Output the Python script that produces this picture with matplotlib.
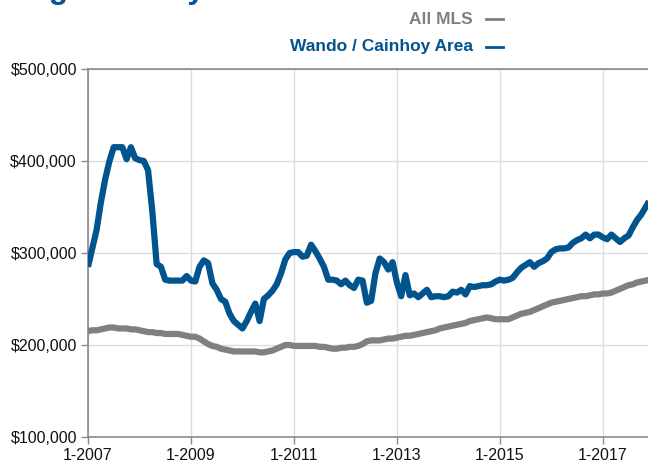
"""
Median sales price chart - All MLS vs Wando / Cainhoy Area.
Monthly values (in $ thousands) read off the reference, Jan 2007 - Dec 2017.
"""

import matplotlib
matplotlib.use("Agg")  # headless backend
import matplotlib.pyplot as plt
from matplotlib.lines import Line2D
import numpy as np

# ---------------------------------------------------------------------------
# Data (thousands of dollars, one value per month starting 1-2007)
# ---------------------------------------------------------------------------

wando_k = [
    285, 305, 325, 355, 380, 400, 415, 415, 415, 402, 415, 403,   # 2007
    401, 400, 390, 345, 288, 285, 271, 270, 270, 270, 270, 275,   # 2008
    270, 269, 285, 292, 289, 267, 260, 250, 247, 234, 226, 222,   # 2009
    218, 226, 236, 245, 226, 250, 254, 259, 266, 278, 293, 300,   # 2010
    301, 301, 296, 297, 309, 302, 294, 285, 271, 271, 270, 266,   # 2011
    270, 265, 262, 271, 270, 246, 248, 278, 294, 290, 282, 290,   # 2012
    268, 253, 276, 254, 256, 252, 256, 260, 252, 253, 253, 252,   # 2013
    253, 258, 257, 260, 255, 264, 263, 264, 265, 265, 266, 269,   # 2014
    271, 270, 271, 273, 279, 284, 287, 290, 285, 289, 291, 294,   # 2015
    301, 304, 305, 305, 306, 311, 314, 316, 320, 316, 320, 320,   # 2016
    317, 315, 320, 316, 312, 316, 319, 328, 336, 342, 350, 358,   # 2017
]

all_mls_k = [
    215, 216, 216, 217, 218, 219, 219, 218, 218, 218, 217, 217,   # 2007
    216, 215, 214, 214, 213, 213, 212, 212, 212, 212, 211, 210,   # 2008
    209, 209, 207, 204, 201, 199, 198, 196, 195, 194, 193, 193,   # 2009
    193, 193, 193, 193, 192, 192, 193, 194, 196, 198, 200, 200,   # 2010
    199, 199, 199, 199, 199, 199, 198, 198, 197, 196, 196, 197,   # 2011
    197, 198, 198, 199, 201, 204, 205, 205, 205, 206, 207, 207,   # 2012
    208, 209, 210, 210, 211, 212, 213, 214, 215, 216, 218, 219,   # 2013
    220, 221, 222, 223, 224, 226, 227, 228, 229, 230, 229, 228,   # 2014
    228, 228, 228, 230, 232, 234, 235, 236, 238, 240, 242, 244,   # 2015
    246, 247, 248, 249, 250, 251, 252, 253, 253, 254, 255, 255,   # 2016
    256, 256, 257, 259, 261, 263, 265, 266, 268, 269, 270, 271,   # 2017
]

series_labels = ["All MLS", "Wando / Cainhoy Area"]
tick_labels = ["1-2007", "1-2009", "1-2011", "1-2013", "1-2015", "1-2017"]
y_ticks_k = [100, 200, 300, 400, 500]

BLUE = "#02548f"
GRAY = "#808080"

# ---------------------------------------------------------------------------
# Figure
# ---------------------------------------------------------------------------

W, H = 648, 466
fig = plt.figure(figsize=(W / 100, H / 100), dpi=100)

# axes placed in pixel terms; right edge runs slightly past the figure
left_px, top_px, bottom_px = 88, 69, 437
px_per_month = 4.29
n_months = 132
ax = fig.add_axes([
    left_px / W,
    (H - bottom_px) / H,
    n_months * px_per_month / W,
    (bottom_px - top_px) / H,
])

months = np.arange(len(wando_k))
ax.plot(months, np.array(all_mls_k) * 1000, color=GRAY, lw=4.5,
        solid_joinstyle="round", solid_capstyle="butt", zorder=3)
ax.plot(months, np.array(wando_k) * 1000, color=BLUE, lw=4.5,
        solid_joinstyle="round", solid_capstyle="butt", zorder=4)

ax.set_xlim(0, n_months)
ax.set_ylim(100000, 500000)

ax.set_xticks(np.arange(0, 121, 24))
ax.set_xticklabels(tick_labels)
ax.set_yticks([v * 1000 for v in y_ticks_k])
ax.set_yticklabels([f"${v},000" for v in y_ticks_k])

for lbl in ax.get_xticklabels() + ax.get_yticklabels():
    lbl.set_fontfamily(["Liberation Sans", "DejaVu Sans"])
    lbl.set_fontsize(11.5)
    lbl.set_color("#111111")

ax.tick_params(axis="both", direction="out", length=5, width=1,
               color="#8a8a8a", pad=3)
ax.grid(True, color="#dcdcdc", lw=1)
ax.set_axisbelow(True)

for side in ("left", "top", "bottom"):
    ax.spines[side].set_color("#8a8a8a")
    ax.spines[side].set_linewidth(1.2)
ax.spines["right"].set_visible(False)

# ---------------------------------------------------------------------------
# Title (cut off at the top of the picture, as in the source) and legend
# ---------------------------------------------------------------------------

fig.text(-1 / W, 1 + 2 / H, "Single Family Detached", ha="left",
         va="baseline", fontsize=23, fontweight="bold", color="#0b5394",
         family=["Liberation Sans", "DejaVu Sans"])

legend_font = ["Liberation Sans Narrow", "Liberation Sans", "DejaVu Sans"]
for label, color, y_px in zip(series_labels, [GRAY, BLUE], [19, 47]):
    fig.text(473 / W, 1 - y_px / H, label, ha="right", va="center",
             fontsize=12.5, fontweight="bold", color=color,
             family=legend_font)
    fig.add_artist(Line2D([486 / W, 503 / W], [1 - y_px / H] * 2,
                          color=color, lw=2, transform=fig.transFigure))

fig.savefig("out.png", dpi=100)
plt.close(fig)
